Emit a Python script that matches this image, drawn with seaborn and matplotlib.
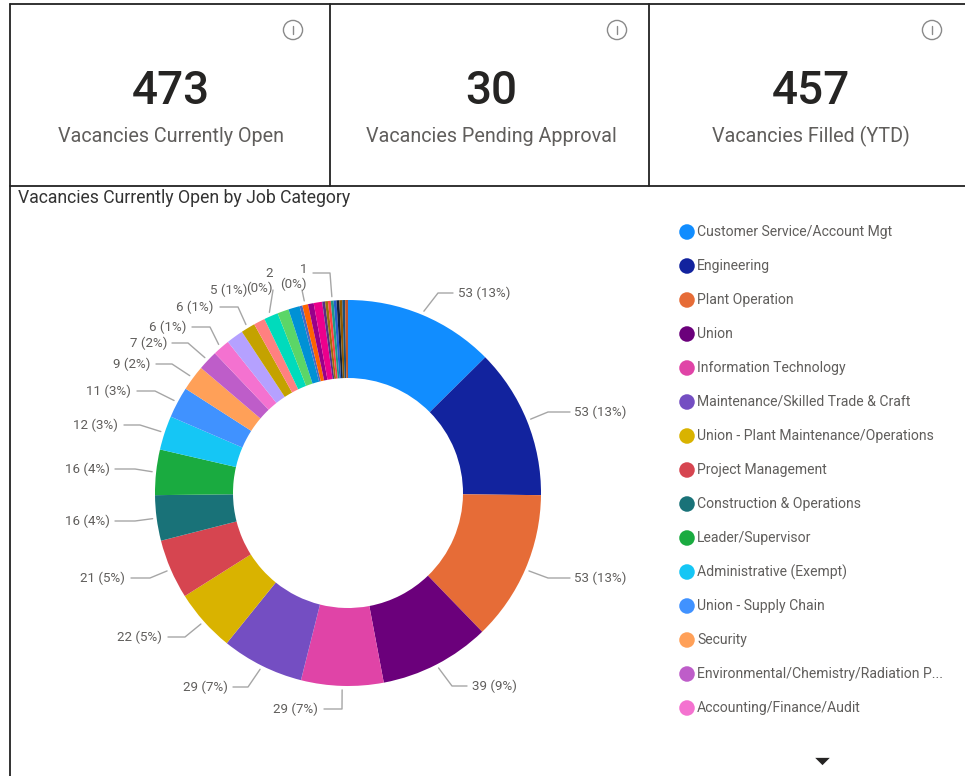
import numpy as np
import matplotlib
matplotlib.use("Agg")
import matplotlib.pyplot as plt
import seaborn as sns

# KPI cards
kpi_values = ["473", "30", "457"]
kpi_labels = ["Vacancies Currently Open", "Vacancies Pending Approval", "Vacancies Filled (YTD)"]

# Slices, largest first
slice_values = [53, 53, 53, 39, 29, 29, 22, 21, 16, 16, 12, 11, 9, 7, 6, 6, 5,
                4, 5, 4, 4, 1, 2, 2, 3, 1, 1, 1, 1, 1, 1, 1, 1, 1]
slice_colors = ["#118DFF", "#12239E", "#E66C37", "#6B007B", "#E044A7", "#744EC2", "#D9B300",
                "#D64550", "#197278", "#1AAB40", "#15C6F5", "#4092FF", "#FFA058", "#BE5DC9",
                "#F472D0", "#B5A1FF", "#C4A200", "#FF8080", "#00DBBC", "#5BD667", "#0091D5",
                "#4668C5", "#FF6300", "#99008A", "#EC008C", "#533285", "#99700A", "#FF4141",
                "#1F9A85", "#255DCD", "#14233C", "#8F5A00", "#1F4E79", "#C0562B"]

# Legend shows only the first page of categories
legend_labels = ["Customer Service/Account Mgt", "Engineering", "Plant Operation", "Union",
                 "Information Technology", "Maintenance/Skilled Trade & Craft",
                 "Union - Plant Maintenance/Operations", "Project Management",
                 "Construction & Operations", "Leader/Supervisor", "Administrative (Exempt)",
                 "Union - Supply Chain", "Security", "Environmental/Chemistry/Radiation P...",
                 "Accounting/Finance/Audit"]

# Data labels and the slice each one points at
label_texts = ["53 (13%)", "53 (13%)", "53 (13%)", "39 (9%)", "29 (7%)", "29 (7%)", "22 (5%)",
               "21 (5%)", "16 (4%)", "16 (4%)", "12 (3%)", "11 (3%)", "9 (2%)", "7 (2%)",
               "6 (1%)", "6 (1%)", "5 (1%)", "2\n(0%)", "1\n(0%)"]
label_slices = [0, 1, 2, 3, 4, 5, 6, 7, 8, 9, 10, 11, 12, 13, 14, 16, 18, 22, 28]

# Label layout in pixels: text x, text y, elbow x, line end x
label_layout = [(458, 293, 438, 453), (574, 412, 548, 570), (574, 578, 548, 570),
                (472, 686, 452, 467), (318, 709, 342, 324), (228, 687, 248, 233),
                (162, 637, 185, 168), (125, 578, 150, 131), (110, 521, 135, 115),
                (110, 469, 135, 115), (118, 425, 140, 124), (131, 391, 155, 137),
                (150, 364, 172, 156), (167, 343, 188, 172), (186, 327, 210, 192),
                (213, 307, 238, 220), (247, 290, 273, 273), (273, 281, 302, 302),
                (307, 277, 330, 313)]

W, H = 965, 776
CX, CY, R = 348, 493, 193
GREY = "#605E5C"

sns.set_theme(style="white")
plt.rcParams["font.family"] = ["Roboto", "DejaVu Sans"]
palette = sns.color_palette(slice_colors)

fig = plt.figure(figsize=(W / 100, H / 100), dpi=100, facecolor="white")

# overlay works in image pixels
ov = fig.add_axes([0, 0, 1, 1], zorder=2)
ov.set_xlim(0, W)
ov.set_ylim(H, 0)
ov.axis("off")
ov.patch.set_alpha(0)

# donut
ax = fig.add_axes([(CX - R) / W, 1 - (CY + R) / H, 2 * R / W, 2 * R / H], zorder=1)
ax.pie(slice_values, colors=palette, startangle=90, counterclock=False, radius=1,
       wedgeprops=dict(width=78 / 193, linewidth=0))
ax.set_xlim(-1, 1)
ax.set_ylim(-1, 1)

# card frames
for x in [330, 649]:
    ov.plot([x, x], [4, 186], color="#222222", lw=1.3)
ov.plot([10, W], [4, 4], color="#222222", lw=1.3)
ov.plot([10, W], [186, 186], color="#222222", lw=1.3)
ov.plot([10, 10], [4, H], color="#222222", lw=1.3)

# KPI text and info icons
kpi_x = [171, 491, 811]
icon_x = [293, 617, 932]
for x, val, lab, ix in zip(kpi_x, kpi_values, kpi_labels, icon_x):
    ov.text(x, 91, val, ha="center", va="center", fontsize=33, fontweight="medium", color="#252423")
    ov.text(x, 136, lab, ha="center", va="center", fontsize=14.2, color=GREY)
    ov.scatter([ix], [30], s=190, facecolor="none", edgecolor="#8A8A8A", linewidth=1)
    ov.plot([ix, ix], [26, 34], color="#8A8A8A", lw=1)

ov.text(18, 198, "Vacancies Currently Open by Job Category", ha="left", va="center",
        fontsize=12.7, color="#333333")

# leader lines start on the slice's middle angle
edges = np.cumsum([0] + slice_values)
mids = (edges[:-1] + edges[1:]) / 2 / edges[-1] * 2 * np.pi
for text, idx, (tx, ty, ex, lx) in zip(label_texts, label_slices, label_layout):
    sx = CX + (R + 4) * np.sin(mids[idx])
    sy = CY - (R + 4) * np.cos(mids[idx])
    line_y = ty if "\n" not in text else ty + 9 if idx == 22 else ty - 4
    ov.plot([sx, ex, lx], [sy, line_y, line_y], color="#A6A6A6", lw=1, zorder=1)
    ha = "left" if tx > ex else "right"
    ov.text(tx, ty, text, ha=ha, va="center", ma="right", fontsize=9.6, color=GREY,
            linespacing=1.15, zorder=3)

# legend
legend_y = [232 + i * 34.0 for i in range(len(legend_labels))]
sns.scatterplot(x=[687] * len(legend_labels), y=legend_y, hue=legend_labels,
                palette=palette[:len(legend_labels)], s=125, linewidth=0, legend=False, ax=ov)
for y, lab in zip(legend_y, legend_labels):
    ov.text(697, y, lab, ha="left", va="center", fontsize=10.1, color=GREY)
ov.set_xlim(0, W)
ov.set_ylim(H, 0)

# next page arrow, flatter than the stock triangle
ov.scatter([822], [761], marker=[(-1, 0.5), (1, 0.5), (0, -0.5)], s=110, color="#252423", linewidth=0)

fig.savefig("out.png", dpi=100)
